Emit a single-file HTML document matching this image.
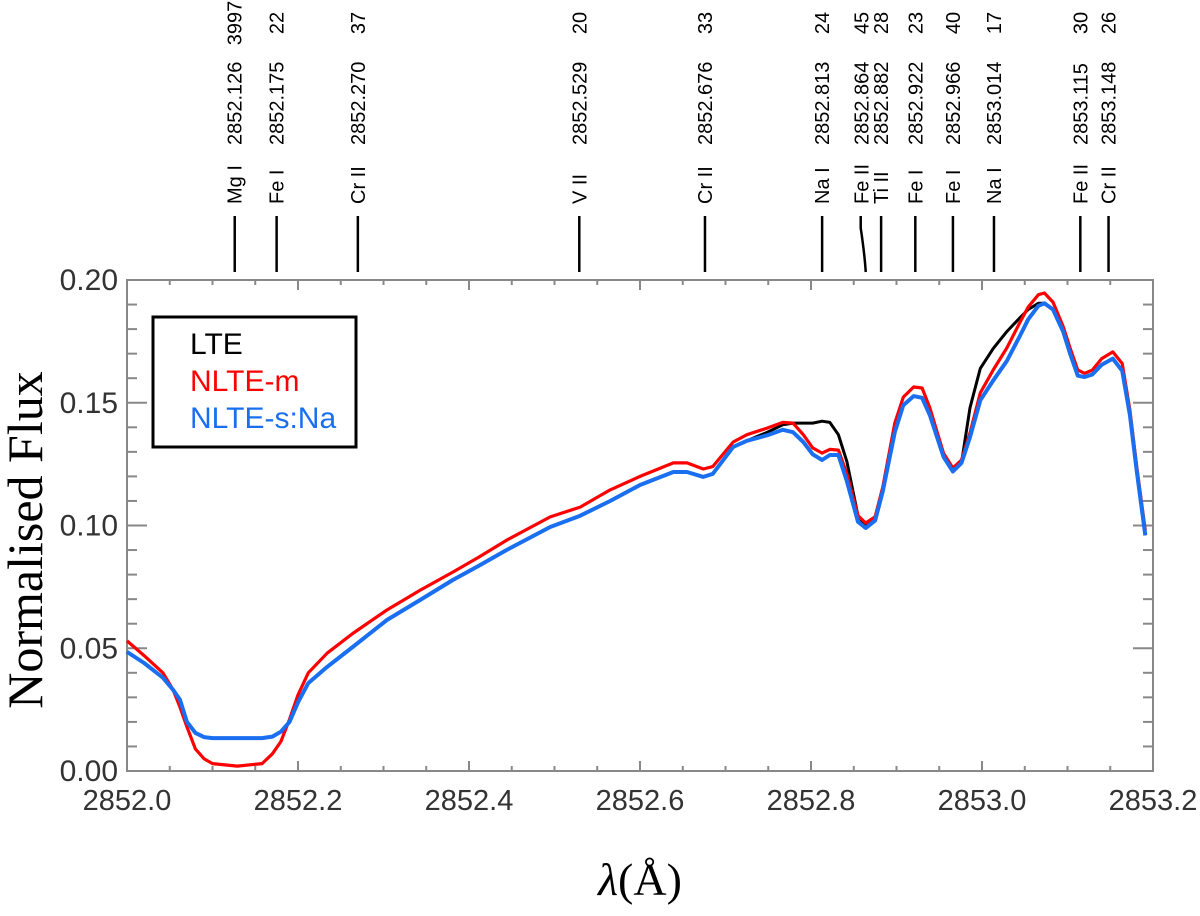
<!DOCTYPE html>
<html><head><meta charset="utf-8"><style>
html,body{margin:0;padding:0;background:#fff;}
svg{display:block;}
</style></head><body>
<svg id="chart" width="1200" height="916" xmlns="http://www.w3.org/2000/svg"></svg>
<script>
const wavelengths = [2852.000,2852.020,2852.042,2852.054,2852.062,2852.070,2852.080,2852.090,2852.100,2852.129,2852.158,2852.170,2852.180,2852.190,2852.200,2852.212,2852.234,2852.264,2852.304,2852.343,2852.381,2852.411,2852.444,2852.495,2852.530,2852.565,2852.600,2852.639,2852.655,2852.674,2852.685,2852.709,2852.725,2852.749,2852.767,2852.779,2852.791,2852.802,2852.813,2852.822,2852.832,2852.842,2852.855,2852.864,2852.875,2852.884,2852.898,2852.908,2852.920,2852.930,2852.939,2852.955,2852.966,2852.976,2852.986,2852.998,2853.013,2853.029,2853.044,2853.054,2853.066,2853.073,2853.083,2853.095,2853.103,2853.112,2853.120,2853.129,2853.140,2853.153,2853.164,2853.173,2853.181,2853.191];
const fluxNLTEm = [0.053,0.047,0.040,0.033,0.026,0.018,0.009,0.005,0.003,0.002,0.003,0.007,0.012,0.021,0.031,0.040,0.048,0.056,0.0656,0.0737,0.081,0.087,0.094,0.1035,0.1075,0.1145,0.120,0.1255,0.1255,0.123,0.124,0.134,0.137,0.1397,0.142,0.1417,0.137,0.1316,0.1295,0.131,0.1307,0.121,0.104,0.101,0.1035,0.1157,0.1417,0.1523,0.1564,0.156,0.148,0.1295,0.1234,0.1267,0.1377,0.154,0.1633,0.1723,0.1825,0.189,0.194,0.1947,0.191,0.181,0.1723,0.1633,0.162,0.1633,0.168,0.1707,0.166,0.147,0.1238,0.098];
const fluxNLTEsNa = [0.0485,0.044,0.038,0.033,0.029,0.020,0.0155,0.0138,0.0134,0.0134,0.0134,0.014,0.016,0.020,0.028,0.0358,0.0424,0.0505,0.0615,0.0697,0.0778,0.0835,0.090,0.0994,0.104,0.110,0.1165,0.1218,0.1218,0.1198,0.121,0.132,0.1345,0.1368,0.139,0.138,0.134,0.129,0.1267,0.1287,0.1287,0.118,0.1015,0.099,0.102,0.114,0.138,0.149,0.1527,0.152,0.145,0.128,0.122,0.1255,0.136,0.151,0.159,0.167,0.177,0.184,0.1895,0.1905,0.188,0.179,0.170,0.161,0.1605,0.1615,0.1655,0.168,0.163,0.145,0.122,0.096];
const fluxLTE = [0.0485,0.044,0.038,0.033,0.029,0.020,0.0155,0.0138,0.0134,0.0134,0.0134,0.014,0.016,0.020,0.028,0.0358,0.0424,0.0505,0.0615,0.0697,0.0778,0.0835,0.090,0.0994,0.104,0.110,0.1165,0.1218,0.1218,0.1198,0.121,0.132,0.1345,0.138,0.141,0.1417,0.1417,0.1417,0.1425,0.142,0.137,0.126,0.104,0.100,0.102,0.114,0.138,0.149,0.1527,0.152,0.145,0.128,0.122,0.1255,0.148,0.164,0.172,0.179,0.1845,0.188,0.1905,0.1905,0.188,0.179,0.170,0.161,0.1605,0.1615,0.1655,0.168,0.163,0.145,0.122,0.096];
const lineSpecies = ["Mg I","Fe I","Cr II","V II","Cr II","Na I","Fe II","Ti II","Fe I","Fe I","Na I","Fe II","Cr II"];
const lineWaves = [2852.126,2852.175,2852.270,2852.529,2852.676,2852.813,2852.864,2852.882,2852.922,2852.966,2853.014,2853.115,2853.148];
const lineLabels = ["2852.126","2852.175","2852.270","2852.529","2852.676","2852.813","2852.864","2852.882","2852.922","2852.966","2853.014","2853.115","2853.148"];
const lineStrengths = ["3997","22","37","20","33","24","45","28","23","40","17","30","26"];
const xTicks = [2852.0,2852.2,2852.4,2852.6,2852.8,2853.0,2853.2];
const xTickLabels = ["2852.0","2852.2","2852.4","2852.6","2852.8","2853.0","2853.2"];
const yTicks = [0,0.05,0.10,0.15,0.20];
const yTickLabels = ["0.00","0.05","0.10","0.15","0.20"];

const L=127,R=1153,T=280,B=771;
const xMin=2852.0,xMax=2853.2,yMin=0,yMax=0.2;
const xs=v=>L+(v-xMin)/(xMax-xMin)*(R-L);
const ys=v=>B-(v-yMin)/(yMax-yMin)*(B-T);
const NS="http://www.w3.org/2000/svg";
const svg=document.getElementById('chart');
function mk(tag,attrs,parent){const e=document.createElementNS(NS,tag);for(const k in attrs)e.setAttribute(k,attrs[k]);(parent||svg).appendChild(e);return e;}

const frame=mk('rect',{x:L,y:T,width:R-L,height:B-T,fill:'none',stroke:'#888','stroke-width':2});



const tg=mk('g',{stroke:'#888','stroke-width':2});


for(let i=0;i<=24;i++){const v=xMin+i*0.05;const x=xs(v);const len=(i%4===0)?10:5;
 mk('line',{x1:x,y1:B,x2:x,y2:B-len},tg);mk('line',{x1:x,y1:T,x2:x,y2:T+len},tg);}
for(let i=0;i<=20;i++){const v=i*0.01;const y=ys(v);const len=(i%5===0)?20:10;
 mk('line',{x1:L,y1:y,x2:L+len,y2:y},tg);mk('line',{x1:R,y1:y,x2:R-len,y2:y},tg);}

xTicks.forEach((v,i)=>{const t=mk('text',{x:xs(v),y:810,'text-anchor':'middle','font-family':'Liberation Sans, sans-serif','font-size':29,fill:'#333'});t.textContent=xTickLabels[i];

});
yTicks.forEach((v,i)=>{const t=mk('text',{x:118,y:ys(v)+10,'text-anchor':'end','font-family':'Liberation Sans, sans-serif','font-size':30,fill:'#333'});t.textContent=yTickLabels[i];

});

const yt=mk('text',{x:0,y:0,transform:'translate(42,540) rotate(-90)','text-anchor':'middle','font-family':'Liberation Serif, serif','font-size':50,fill:'#000'});
yt.textContent='Normalised Flux';


const xt=mk('text',{x:xs(2852.6),y:895,'text-anchor':'middle','font-family':'Liberation Serif, serif','font-size':46,fill:'#000'});
xt.innerHTML='<tspan font-style="italic">λ</tspan>(Å)';



lineWaves.forEach((w,i)=>{
 const g=mk('g',{});
 
 
 const x=xs(w);
 let lx=x;
 if(i===6){lx=x-4;mk('path',{d:`M${x-5},216 L${x-5},228 Q${x-1},255 ${x},272`,fill:'none',stroke:'#000','stroke-width':2.5},g);}
 else mk('line',{x1:x,y1:216,x2:x,y2:272,stroke:'#000','stroke-width':2.5},g);
 const f='Liberation Sans, sans-serif';
 const a=mk('text',{transform:`translate(${lx+7},204) rotate(-90)`,'font-family':f,'font-size':20,fill:'#000'},g);a.textContent=lineSpecies[i];
 const b=mk('text',{transform:`translate(${lx+7},145) rotate(-90)`,'font-family':f,'font-size':20,fill:'#000'},g);b.textContent=lineLabels[i];
 const c=mk('text',{transform:`translate(${lx+7},23) rotate(-90)`,'text-anchor':'middle','font-family':f,'font-size':20,fill:'#000'},g);c.textContent=lineStrengths[i];
});

function path(vals){return wavelengths.map((w,i)=>(i?'L':'M')+xs(w).toFixed(1)+','+ys(vals[i]).toFixed(1)).join(' ');}
const pb=mk('path',{d:path(fluxLTE),fill:'none',stroke:'#000','stroke-width':3,'stroke-linejoin':'round'});


const pr=mk('path',{d:path(fluxNLTEm),fill:'none',stroke:'#f00','stroke-width':3.2,'stroke-linejoin':'round'});


const pu=mk('path',{d:path(fluxNLTEsNa),fill:'none',stroke:'#1a6ff0','stroke-width':4,'stroke-linejoin':'round'});



const lg=mk('g',{});


mk('rect',{x:153,y:317,width:203,height:130,fill:'#fff',stroke:'#000','stroke-width':3},lg);
[['LTE','#000',354],['NLTE-m','#f00',391],['NLTE-s:Na','#1a6ff0',428]].forEach(d=>{
 const t=mk('text',{x:190,y:d[2],'font-family':'Liberation Sans, sans-serif','font-size':30,fill:d[1]},lg);t.textContent=d[0];
 
 
});
</script>
</body></html>
